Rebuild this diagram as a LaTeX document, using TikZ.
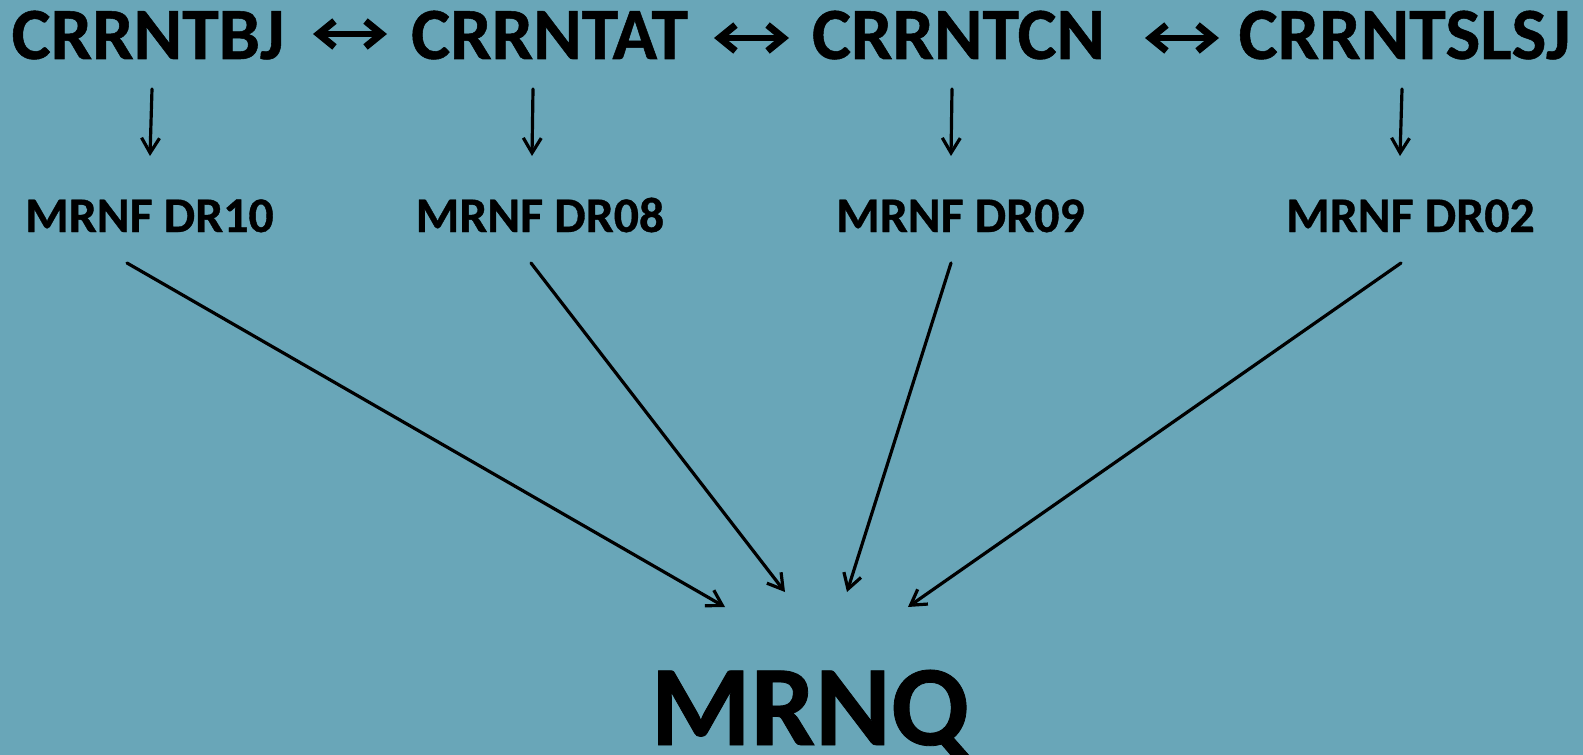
\documentclass[tikz,border=0pt]{standalone}
\usepackage{fontspec}
\setmainfont{Carlito}[BoldFeatures={FakeBold=0.7}]
\usetikzlibrary{arrows.meta}
\definecolor{bgc}{RGB}{105,166,184}
\tikzset{
  topnode/.style={anchor=base,inner sep=0pt,font=\fontsize{74}{80}\selectfont\bfseries},
  midnode/.style={anchor=base,inner sep=0pt,font=\fontsize{50}{56}\selectfont\bfseries},
  bignode/.style={anchor=base,inner sep=0pt,font=\fontsize{115}{120}\selectfont\bfseries},
  dblarrow/.style={line width=7pt,line cap=round,line join=round,{Straight Barb[length=16pt,width=26pt,line width=7pt]}-{Straight Barb[length=16pt,width=26pt,line width=7pt]}},
  conn/.style={line width=3.2pt,line cap=round,line join=round,-{Straight Barb[length=15pt,width=18pt,line width=3.2pt]}}
}
\begin{document}
\begin{tikzpicture}[x=1bp,y=-1bp]
\fill[bgc] (0,0) rectangle (1583,755);
\useasboundingbox (0,0) rectangle (1583,755);
% top row
\node[topnode] (bj) at (148,59) {CRRNTBJ};
\node[topnode] (at) at (549.5,59) {CRRNTAT};
\node[topnode] (cn) at (958.5,59) {CRRNTCN};
\node[topnode] (slsj) at (1404.5,59) {CRRNTSLSJ};
% middle row
\node[midnode] (d10) at (149.5,232) {MRNF DR10};
\node[midnode] (d08) at (540,232) {MRNF DR08};
\node[midnode] (d09) at (960.5,232) {MRNF DR09};
\node[midnode] (d02) at (1410.5,232) {MRNF DR02};
% bottom
\node[bignode] (mrnq) at (810,745) {MRNQ};
% coordinates for connector ends
\coordinate (h1a) at (313,34); \coordinate (h1b) at (387,34);
\coordinate (h2a) at (714,38); \coordinate (h2b) at (789,38);
\coordinate (h3a) at (1145,38); \coordinate (h3b) at (1219,38);
\coordinate (v1a) at (152,89); \coordinate (v1b) at (150,156);
\coordinate (v2a) at (533,89); \coordinate (v2b) at (532,156);
\coordinate (v3a) at (952,89); \coordinate (v3b) at (951,156);
\coordinate (v4a) at (1402,89); \coordinate (v4b) at (1400,156);
\coordinate (g1a) at (127,263); \coordinate (g1b) at (725,607);
\coordinate (g2a) at (531,263); \coordinate (g2b) at (785,592);
\coordinate (g3a) at (951,263); \coordinate (g3b) at (847,592);
\coordinate (g4a) at (1401,263); \coordinate (g4b) at (908,607);
\draw[dblarrow] (h1a) -- (h1b);
\draw[dblarrow] (h2a) -- (h2b);
\draw[dblarrow] (h3a) -- (h3b);
\draw[conn] (v1a) -- (v1b);
\draw[conn] (v2a) -- (v2b);
\draw[conn] (v3a) -- (v3b);
\draw[conn] (v4a) -- (v4b);
\draw[conn] (g1a) -- (g1b);
\draw[conn] (g2a) -- (g2b);
\draw[conn] (g3a) -- (g3b);
\draw[conn] (g4a) -- (g4b);
\end{tikzpicture}
\end{document}
